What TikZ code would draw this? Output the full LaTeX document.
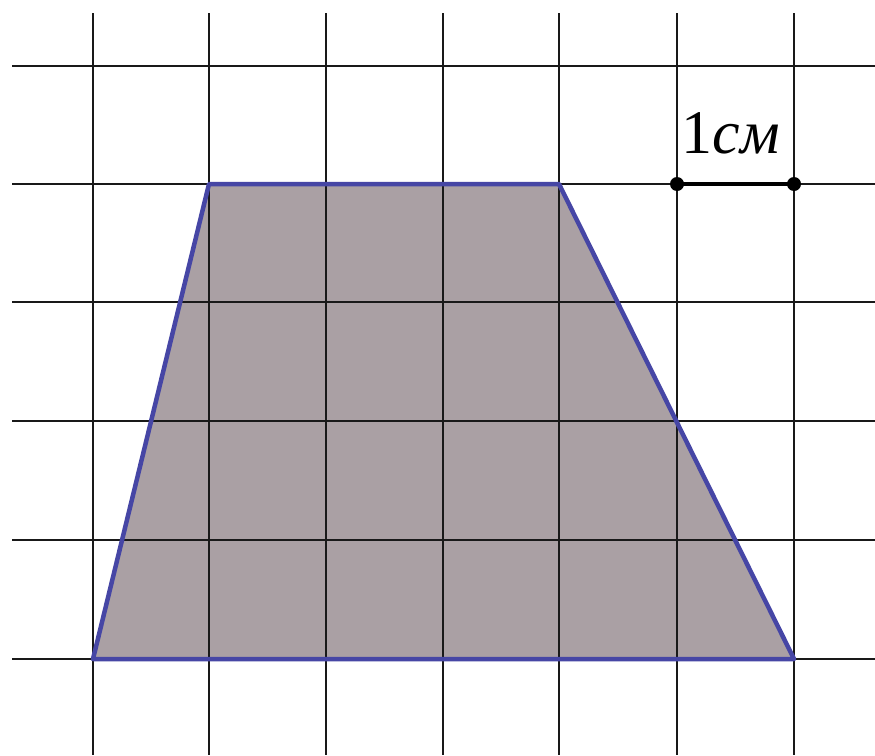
\documentclass[tikz,border=0pt]{standalone}
\usepackage{fontspec}
\setmainfont{Liberation Serif}
\definecolor{fillmauve}{RGB}{170,160,164}
\definecolor{edgeblue}{RGB}{70,70,165}
\definecolor{gridline}{RGB}{25,25,25}
\tikzset{
  gridln/.style={draw=gridline, line width=2.8pt},
  trapfill/.style={fill=fillmauve},
  trapedge/.style={draw=edgeblue, line width=4.5pt, line join=round},
  scaledot/.style={circle, fill=black, inner sep=0pt, minimum size=14pt},
  scalebar/.style={draw=black, line width=4.5pt},
  lbl/.style={font=\fontsize{62}{62}\selectfont, inner sep=0pt, anchor=base}
}
\begin{document}
\begin{tikzpicture}[x=1pt,y=-1pt]
\useasboundingbox (0,0) rectangle (875,755);
\fill[white] (0,0) rectangle (875,755);
% trapezoid corners
\coordinate (A) at (93,659);
\coordinate (B) at (209,184);
\coordinate (C) at (559,184);
\coordinate (D) at (794,659);
\path[trapfill] (A) -- (B) -- (C) -- (D) -- cycle;
% grid
\foreach \x in {93,209,326,443,559,677,794} {
  \draw[gridln] (\x,13) -- (\x,755);
}
\foreach \y in {66,184,302,421,540,659} {
  \draw[gridln] (12,\y) -- (875,\y);
}
% outline
\draw[trapedge] (A) -- (B) -- (C) -- (D) -- cycle;
% scale bar
\node[scaledot] (s1) at (677,184) {};
\node[scaledot] (s2) at (794,184) {};
\draw[scalebar] (s1.center) -- (s2.center);
\node[lbl] (lab) at (731,153) {1\textit{см}};
\end{tikzpicture}
\end{document}
